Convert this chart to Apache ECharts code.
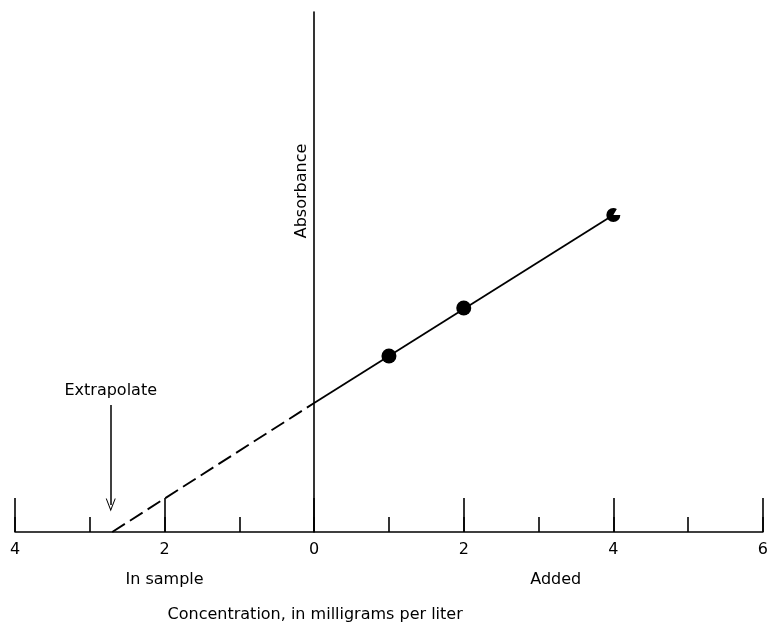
<!DOCTYPE html>
<html>
<head>
<meta charset="utf-8">
<script src="https://cdn.jsdelivr.net/npm/echarts@6/dist/echarts.min.js"></script>
<style>html,body{margin:0;padding:0;background:#fff}#c{width:771px;height:624px}</style>
</head>
<body>
<div id="c"></div>
<script>
// Standard-addition data (absorbance in arbitrary units)
const addedConc = [1, 2];            // mg/L added, solid dots
const addedAbs = [0.176, 0.224];
const lastConc = [4];                // half-filled marker
const lastAbs = [0.317];
const interceptAbs = 0.129;          // absorbance at 0 added
const extrapolatedX = -2.7;          // x-intercept (sample concentration)
const fitSolidX = [0, 4];
const fitSolidY = [0.129, 0.317];
const fitDashX = [-2.7, 0];
const fitDashY = [0, 0.129];
const arrowX = [-2.72, -2.72];
const arrowY = [0.127, 0.027];
const xMin = -4, xMax = 6;
const yMin = 0, yMax = 0.52;
const sideLabels = ['In sample', 'Added'];
const sideLabelX = [-2, 3.23];
const xTitle = 'Concentration, in milligrams per liter';
const yTitle = 'Absorbance';
const arrowText = 'Extrapolate';

const FONT = 'DejaVu Sans';
const pair = (xs, ys) => xs.map((x, i) => [x, ys[i]]);
const notchCircle = 'path://M10,10 L20,10 A10,10 0 1,1 15,1.34 Z';
const openArrow = 'path://M5,0 L10,12 L9,12 L5,2.5 L1,12 L0,12 Z';

const chart = echarts.init(document.getElementById('c'), null, {renderer: 'canvas'});
const option = {
  animation: false,
  backgroundColor: '#fff',
  grid: {left: 15, right: 5, top: 12, bottom: 92, containLabel: false},
  xAxis: [
    {
      type: 'value', min: xMin, max: xMax, interval: 2, position: 'bottom',
      axisLine: {show: true, onZero: true, lineStyle: {color: '#000', width: 1.6}},
      axisTick: {show: true, inside: true, length: 34, lineStyle: {color: '#000', width: 1.6}},
      axisLabel: {show: true, margin: 10, color: '#000', fontFamily: FONT, fontSize: 16,
        formatter: v => String(Math.abs(v))},
      splitLine: {show: false}
    },
    {
      type: 'value', min: xMin, max: xMax, interval: 1, position: 'bottom',
      axisLine: {show: false},
      axisTick: {show: true, inside: true, length: 15, lineStyle: {color: '#000', width: 1.6}},
      axisLabel: {show: false},
      splitLine: {show: false}
    }
  ],
  yAxis: {
    type: 'value', min: yMin, max: yMax,
    axisLine: {show: true, onZero: true, lineStyle: {color: '#000', width: 1.6}},
    axisTick: {show: false}, axisLabel: {show: false}, splitLine: {show: false}
  },
  series: [
    {
      type: 'line', xAxisIndex: 0, data: pair(fitSolidX, fitSolidY), symbol: 'none',
      lineStyle: {color: '#000', width: 1.8}, z: 3,
      markLine: {
        silent: true, symbol: ['none', openArrow], symbolSize: [10, 13],
        lineStyle: {color: '#000', width: 1.5, type: 'solid'},
        label: {show: true, position: 'start', distance: 6, formatter: arrowText,
          color: '#000', fontFamily: FONT, fontSize: 16},
        data: [[{coord: [arrowX[0], arrowY[0]]}, {coord: [arrowX[1], arrowY[1]]}]]
      }
    },
    {
      type: 'line', xAxisIndex: 0, data: pair(fitDashX, fitDashY), symbol: 'none',
      lineStyle: {color: '#000', width: 1.9, type: [15, 6]}, z: 3
    },
    {
      type: 'scatter', xAxisIndex: 0, data: pair(addedConc, addedAbs), symbol: 'circle',
      symbolSize: 15, itemStyle: {color: '#000', opacity: 1}, z: 4
    },
    {
      type: 'scatter', xAxisIndex: 0, data: pair(lastConc, lastAbs), symbol: notchCircle,
      symbolSize: 14, itemStyle: {color: '#000', opacity: 1}, z: 4
    }
  ]
};
chart.setOption(option);

const px = (x, y) => chart.convertToPixel({gridIndex: 0}, [x, y]);
const base = px(0, 0);
const txt = (text, x, y, extra) => Object.assign({
  type: 'text', x: x, y: y,
  style: {text: text, fill: '#000', font: '16px "' + FONT + '"', align: 'center', verticalAlign: 'middle'}
}, extra || {});
const graphics = [];
sideLabels.forEach((s, i) => {
  const p = px(sideLabelX[i], 0);
  graphics.push(txt(s, p[0], base[1] + 48));
});
graphics.push(txt(xTitle, base[0] + 1, base[1] + 83));
const ya = px(0, 0.341);
graphics.push(txt(yTitle, ya[0] - 12, ya[1], {rotation: Math.PI / 2}));
chart.setOption({graphic: graphics});
</script>
</body>
</html>
